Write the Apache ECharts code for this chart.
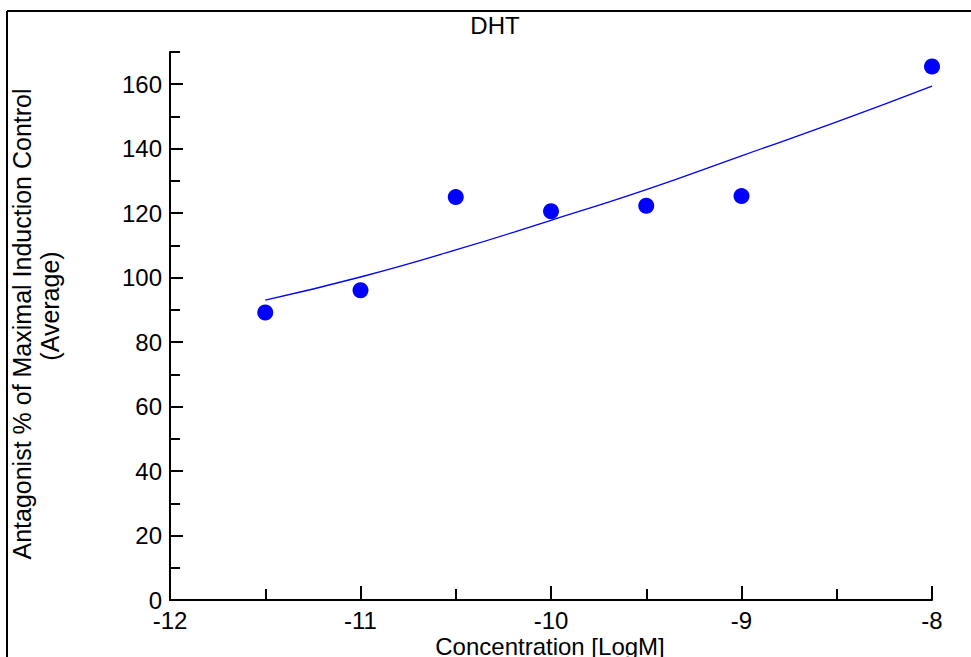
<!DOCTYPE html>
<html>
<head>
<meta charset="utf-8">
<script src="https://cdn.jsdelivr.net/npm/echarts@6/dist/echarts.min.js"></script>
<style>
html,body{margin:0;padding:0;background:#fff;}
#chart{width:971px;height:657px;}
</style>
</head>
<body>
<div id="chart"></div>
<script>
// Data
var pointX = [-11.5, -11, -10.5, -10, -9.5, -9, -8];
var pointY = [89.2, 96.1, 125.0, 120.6, 122.3, 125.3, 165.5];
var fitX = [-11.5, -11, -10.5, -10, -9.5, -9, -8.5, -8];
var fitY = [93.0, 100.2, 108.6, 117.8, 127.3, 137.8, 148.3, 159.4];
var yMajorTicks = [0, 20, 40, 60, 80, 100, 120, 140, 160];
var xTicks = [-12, -11, -10, -9, -8];
var titleText = 'DHT';
var xName = 'Concentration [LogM]';
var yName1 = 'Antagonist % of Maximal Induction Control';
var yName2 = '(Average)';

var FONT = 'Liberation Sans, Arial, sans-serif';
var FS = 24;
var FSY = 25;
var chart = echarts.init(document.getElementById('chart'), null, {renderer: 'svg'});

var scatterData = pointX.map(function (x, i) { return [x, pointY[i]]; });
var fitData = fitX.map(function (x, i) { return [x, fitY[i]]; });

chart.setOption({
  animation: false,
  backgroundColor: '#ffffff',
  grid: {left: 170, right: 39, top: 52, bottom: 57, containLabel: false},
  xAxis: {
    type: 'value', min: xTicks[0], max: xTicks[xTicks.length - 1], interval: 1,
    axisLine: {show: true, onZero: false, lineStyle: {color: '#000', width: 2}},
    axisTick: {show: true, inside: true, length: 14, lineStyle: {color: '#000', width: 2}},
    minorTick: {show: true, splitNumber: 2, length: 11, lineStyle: {color: '#000', width: 2}},
    axisLabel: {color: '#000', fontSize: FS, fontFamily: FONT, margin: 8},
    splitLine: {show: false}
  },
  yAxis: [{
    type: 'value', min: 0, max: 170, position: 'left',
    axisLine: {show: true, onZero: false, lineStyle: {color: '#000', width: 2}},
    axisTick: {show: true, inside: true, length: 13, customValues: yMajorTicks, lineStyle: {color: '#000', width: 2}},
    axisLabel: {color: '#000', fontSize: FS, fontFamily: FONT, margin: 8, customValues: yMajorTicks},
    splitLine: {show: false}
  }, {
    type: 'value', min: 0, max: 170, interval: 10, position: 'left',
    axisLine: {show: false},
    axisTick: {show: true, inside: true, length: 10, lineStyle: {color: '#000', width: 2}},
    axisLabel: {show: false},
    splitLine: {show: false}
  }],
  series: [{
    type: 'line', data: fitData, smooth: true, showSymbol: false, yAxisIndex: 0,
    lineStyle: {color: '#0000ff', width: 1.3}, z: 2
  }, {
    type: 'scatter', data: scatterData, yAxisIndex: 0, symbol: 'circle', symbolSize: 16,
    itemStyle: {color: '#0000ff', opacity: 1}, z: 3
  }],
  graphic: [
    {type: 'line', shape: {x1: 7, y1: 11, x2: 971, y2: 11}, style: {stroke: '#000', lineWidth: 2}},
    {type: 'line', shape: {x1: 7, y1: 11, x2: 7, y2: 657}, style: {stroke: '#000', lineWidth: 2}},
    {type: 'text', x: 495, y: 25, style: {text: titleText, fill: '#000', font: FS + 'px ' + FONT, textAlign: 'center', textVerticalAlign: 'middle'}},
    {type: 'text', x: 550, y: 646, style: {text: xName, fill: '#000', font: FS + 'px ' + FONT, textAlign: 'center', textVerticalAlign: 'middle'}},
    {type: 'text', x: 22, y: 324, rotation: Math.PI / 2, style: {text: yName1, fill: '#000', font: FSY + 'px ' + FONT, textAlign: 'center', textVerticalAlign: 'middle'}},
    {type: 'text', x: 50, y: 306, rotation: Math.PI / 2, style: {text: yName2, fill: '#000', font: FSY + 'px ' + FONT, textAlign: 'center', textVerticalAlign: 'middle'}}
  ]
});
</script>
</body>
</html>
